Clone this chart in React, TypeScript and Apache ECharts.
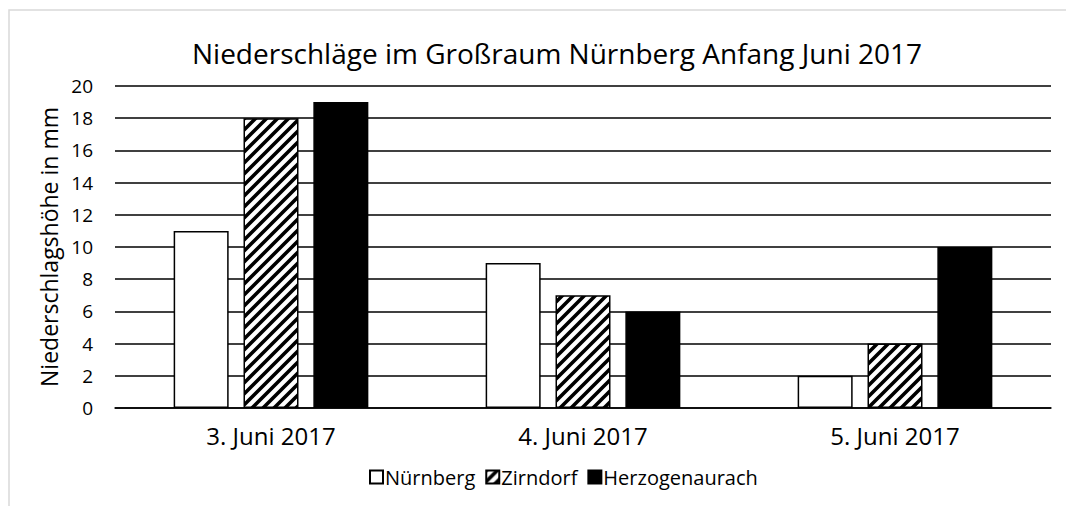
import React, { useEffect, useRef } from "react";
import * as echarts from "echarts";

const categories = ["3. Juni 2017", "4. Juni 2017", "5. Juni 2017"];
const nuernberg = [11, 9, 2];
const zirndorf = [18, 7, 4];
const herzogenaurach = [19, 6, 10];
const seriesNames = ["Nürnberg", "Zirndorf", "Herzogenaurach"];

function makeHatch(): string {
  const s = 11;
  const c = document.createElement("canvas");
  c.width = s;
  c.height = s;
  const ctx = c.getContext("2d")!;
  ctx.fillStyle = "#ffffff";
  ctx.fillRect(0, 0, s, s);
  ctx.strokeStyle = "#000000";
  ctx.lineWidth = 3.6;
  ctx.lineCap = "square";
  for (const off of [-s, 0, s]) {
    ctx.beginPath();
    ctx.moveTo(off, s);
    ctx.lineTo(off + s, 0);
    ctx.stroke();
  }
  return c.toDataURL();
}

export default function App() {
  const ref = useRef<HTMLDivElement>(null);
  useEffect(() => {
    if (!ref.current) return;
    const chart = echarts.init(ref.current, null, { renderer: "svg" });
    const hatch = { image: makeHatch(), repeat: "repeat" } as any;
    const font = "'Open Sans', sans-serif";
    const barBase = {
      type: "bar" as const,
      barWidth: 55,
      barGap: "27%",
    };
    chart.setOption({
      animation: false,
      backgroundColor: "#ffffff",
      textStyle: { fontFamily: font, color: "#000" },
      graphic: [
        {
          type: "rect",
          shape: { x: 9, y: 10, width: 1200, height: 700 },
          style: { fill: "none", stroke: "#d9d9d9", lineWidth: 1.5 },
          silent: true,
        },
      ],
      title: {
        text: "Niederschläge im Großraum Nürnberg Anfang Juni 2017",
        left: 552,
        textAlign: "center",
        top: 34,
        textStyle: { fontFamily: font, fontSize: 28, fontWeight: "normal", color: "#000" },
      },
      legend: {
        bottom: 14,
        left: 364,
        itemWidth: 13,
        itemHeight: 13,
        itemGap: 10,
        icon: "rect",
        textStyle: { fontFamily: font, fontSize: 20, color: "#000", padding: [0, 0, 0, -3] },
        data: seriesNames,
      },
      grid: { left: 115, right: 15, top: 86, bottom: 98 },
      xAxis: {
        type: "category",
        data: categories,
        axisLine: { show: true, lineStyle: { color: "#000", width: 1.5 } },
        axisTick: { show: false },
        axisLabel: { fontFamily: font, fontSize: 24, color: "#000", margin: 15 },
      },
      yAxis: {
        type: "value",
        min: 0,
        max: 20,
        interval: 2,
        name: "Niederschlagshöhe in mm",
        nameLocation: "middle",
        nameGap: 55,
        nameTextStyle: { fontFamily: font, fontSize: 23, color: "#000" },
        axisLine: { show: false },
        axisTick: { show: false },
        axisLabel: { fontFamily: font, fontSize: 19, color: "#000", margin: 22 },
        splitLine: { lineStyle: { color: "#000", width: 1.5 } },
      },
      series: [
        {
          ...barBase,
          name: seriesNames[0],
          data: nuernberg,
          itemStyle: { color: "#ffffff", borderColor: "#000", borderWidth: 1.5 },
        },
        {
          ...barBase,
          name: seriesNames[1],
          data: zirndorf,
          itemStyle: { color: hatch, borderColor: "#000", borderWidth: 1.5 },
        },
        {
          ...barBase,
          name: seriesNames[2],
          data: herzogenaurach,
          itemStyle: { color: "#000000", borderColor: "#000", borderWidth: 1.5 },
        },
      ],
    });
    return () => chart.dispose();
  }, []);
  return (
    <div
      ref={ref}
      style={{ position: "fixed", left: 0, top: 0, width: 1066, height: 506 }}
    />
  );
}
